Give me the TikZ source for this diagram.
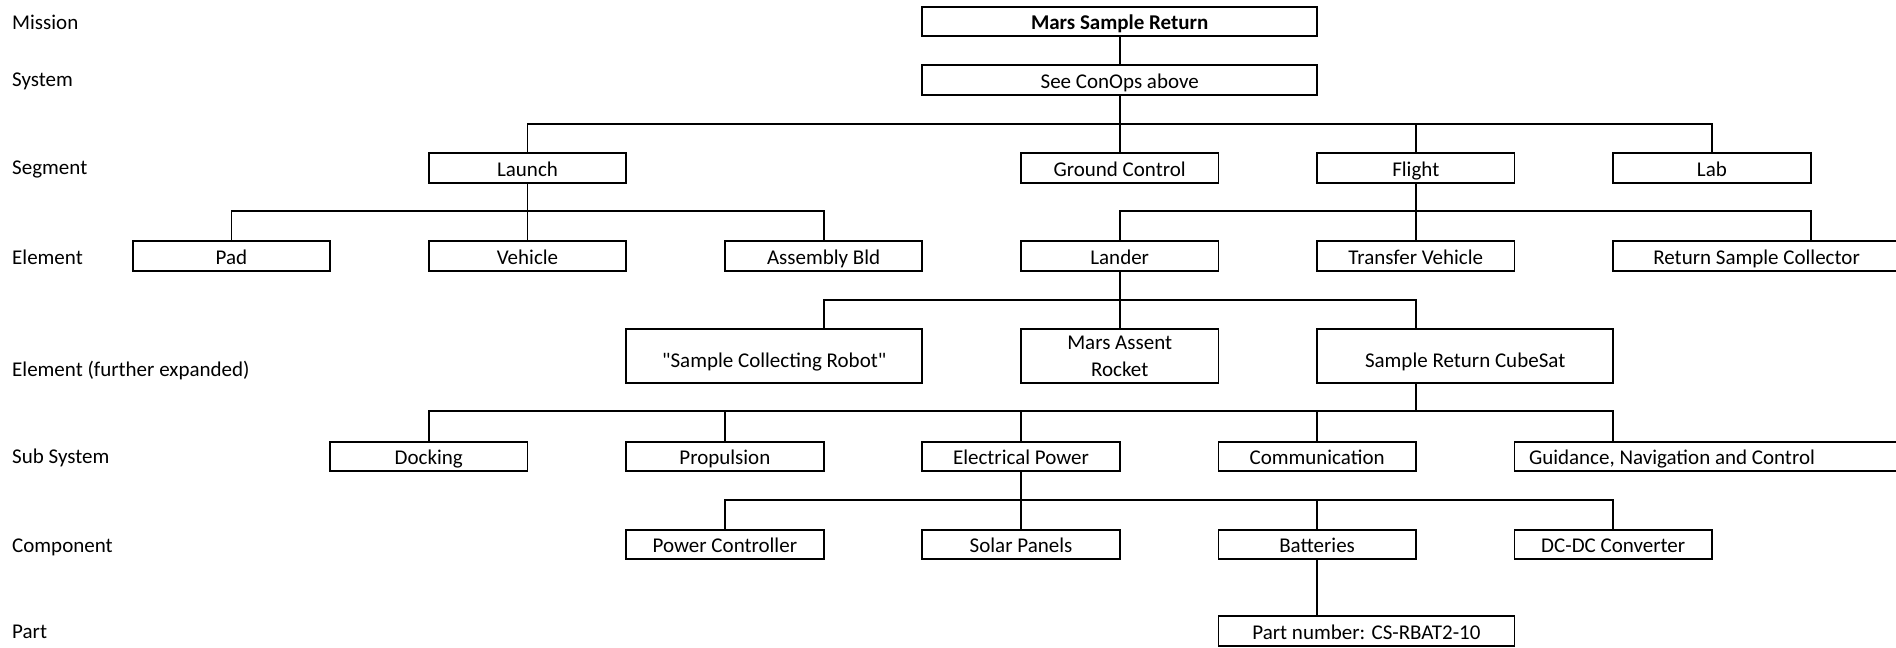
\documentclass[tikz,border=0pt]{standalone}
\usepackage{fontspec}
\setmainfont{Carlito}
\newcommand{\sq}{{\addfontfeatures{Ligatures=TeXOff}"}}
\begin{document}
\begin{tikzpicture}[x=1pt,y=-1pt,
  txt/.style={font=\fontsize{21}{27}\selectfont},
  box/.style={draw, line width=1.8pt, inner sep=0pt, outer sep=0pt, minimum height=29.5pt, txt, text height=19.5pt, text depth=3.5pt},
  w2/.style={box, minimum width=197.4pt},
  tall/.style={box, minimum height=54pt, text height=, text depth=, align=center},
  lab/.style={anchor=west, inner sep=0pt, txt},
  conn/.style={line width=1.8pt}]
\useasboundingbox (0,0) rectangle (1896,648);
\clip (0,0) rectangle (1896,648);
% level labels
\node[lab] (lmission) at (12,22) {Mission};
\node[lab] (lsystem) at (12,81) {System};
\node[lab] (lsegment) at (12,169) {Segment};
\node[lab] (lelement) at (12,257) {Element};
\node[lab] (lfurther) at (12,371) {Element (further expanded)};
\node[lab] (lsub) at (12,458) {Sub System};
\node[lab] (lcomp) at (12,547) {Component};
\node[lab] (lpart) at (12,632) {Part};
% mission / system
\node[box, minimum width=394.8pt, font=\fontsize{21}{27}\selectfont\bfseries] (msr) at (1119.7,21.5) {Mars Sample Return};
\node[box, minimum width=394.8pt] (conops) at (1119.7,80) {See ConOps above};
% segment
\node[w2] (launch) at (527.5,168) {Launch};
\node[w2] (gc) at (1119.7,168) {Ground Control};
\node[w2] (flight) at (1415.8,168) {Flight};
\node[w2] (lab) at (1711.9,168) {Lab};
% element
\node[w2] (pad) at (231.4,256) {Pad};
\node[w2] (veh) at (527.5,256) {Vehicle};
\node[w2] (asm) at (823.6,256) {Assembly Bld};
\node[w2] (lander) at (1119.7,256) {Lander};
\node[w2] (tv) at (1415.8,256) {Transfer Vehicle};
\node[box, minimum width=286.8pt] (rsc) at (1756.6,256) {Return Sample Collector};
\coordinate (rsctop) at (1810.6,241.25);
% element further expanded
\node[tall, minimum width=296.1pt] (scr) at (774.25,356) {\mbox{}\\\sq Sample Collecting Robot\sq};
\node[tall, minimum width=197.4pt] (mar) at (1119.7,356) {Mars Assent\\Rocket};
\node[tall, minimum width=296.1pt] (cube) at (1465.15,356) {\mbox{}\\Sample Return CubeSat};
% sub systems
\node[w2] (dock) at (428.8,456.5) {Docking};
\node[w2] (prop) at (724.9,456.5) {Propulsion};
\node[w2] (ep) at (1021,456.5) {Electrical Power};
\node[w2] (comm) at (1317.1,456.5) {Communication};
\node[box, minimum width=420pt] (gnc) at (1724.5,456.5) {\makebox[391pt][l]{Guidance, Navigation and Control}};
% components
\node[w2] (pc) at (724.9,544.5) {Power Controller};
\node[w2] (sp) at (1021,544.5) {Solar Panels};
\node[w2] (bat) at (1317.1,544.5) {Batteries};
\node[w2] (dcdc) at (1613.2,544.5) {DC-DC Converter};
% part
\node[box, minimum width=296.1pt] (part) at (1366.45,631) {Part number: CS-RBAT2-10};
% connectors
\draw[conn] (msr.south) -- (conops.north);
\foreach \c in {launch,gc,flight,lab}
  \draw[conn] (conops.south) -- ++(0,29) -| (\c.north);
\foreach \c in {pad,veh,asm}
  \draw[conn] (launch.south) -- ++(0,28) -| (\c.north);
\foreach \c in {lander.north,tv.north,rsctop}
  \draw[conn] (flight.south) -- ++(0,28) -| (\c);
\draw[conn] (lander.south) -- ++(0,29) -| (scr.north -| asm.south);
\draw[conn] (lander.south) -- ++(0,29) -| (mar.north);
\draw[conn] (lander.south) -- ++(0,29) -| (cube.north -| tv.south);
\foreach \c in {dock.north,prop.north,ep.north,comm.north}
  \draw[conn] (cube.south -| tv.south) -- ++(0,28) -| (\c);
\draw[conn] (cube.south -| tv.south) -- ++(0,28) -| (gnc.north -| dcdc.north);
\foreach \c in {pc,sp,bat,dcdc}
  \draw[conn] (ep.south) -- ++(0,29) -| (\c.north);
\draw[conn] (bat.south) -- (bat.south |- part.north);
\end{tikzpicture}
\end{document}
